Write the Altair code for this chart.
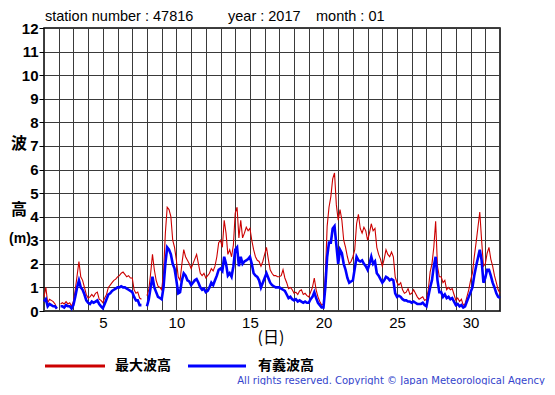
import altair as alt
import pandas as pd

# 3-hourly samples, day d + k/8 (k = 0..7), days 1..31, plus day 32.0
max_wave = [
    0.6, 1.0, 0.35, 0.5, 0.45, 0.4, 0.3, 0.1,          # 1
    None, 0.3, 0.35, 0.3, 0.4, 0.3, 0.35, 0.2,         # 2
    0.4, 0.9, 1.5, 2.1, 1.45, 1.3, 1.0, 0.7,           # 3
    0.55, 0.6, 0.7, 0.6, 0.75, 0.8, 0.5, 0.45,         # 4
    0.35, 0.55, 0.7, 1.0, 1.1, 1.2, 1.3, 1.35,         # 5
    1.45, 1.5, 1.6, 1.65, 1.55, 1.45, 1.5, 1.4,        # 6
    1.4, 0.9, 0.75, 0.8, 0.55, 0.5, None, None,        # 7
    0.65, 0.9, 1.6, 2.4, 1.75, 1.3, 1.05, 1.0,         # 8
    0.9, 1.6, 3.3, 4.4, 4.3, 4.0, 3.0, 2.7,            # 9
    2.15, 1.45, 1.3, 2.0, 2.6, 2.3, 2.15, 2.0,         # 10
    1.8, 2.0, 2.2, 2.4, 2.0, 1.6, 1.5, 1.6,            # 11
    1.4, 1.5, 1.6, 1.8, 1.7, 1.9, 2.3, 2.9,            # 12
    3.0, 2.7, 3.85, 3.3, 2.4, 2.6, 2.3, 2.8,           # 13
    4.15, 4.4, 3.1, 3.85, 3.1, 3.3, 3.55, 3.4,         # 14
    3.5, 3.0, 2.6, 2.3, 2.15, 2.1, 1.9, 2.1,           # 15
    2.4, 2.7, 2.2, 1.75, 1.6, 1.5, 1.5, 1.45,          # 16
    1.45, 1.5, 1.75, 1.4, 1.2, 0.95, 1.0, 0.9,         # 17
    0.75, 0.8, 0.7, 0.85, 0.9, 0.7, 0.75, 0.65,        # 18
    0.6, 0.8, 1.0, 1.4, 0.9, 0.6, 0.4, 0.25,           # 19
    0.3, 1.5, 3.6, 4.4, 4.85, 5.6, 5.85, 4.5,          # 20
    3.85, 4.3, 3.85, 3.0, 2.7, 2.3, 2.0, 2.1,          # 21
    2.3, 2.6, 3.7, 4.1, 3.5, 3.3, 3.55, 3.4,           # 22
    3.0, 3.3, 3.7, 3.4, 3.5, 2.7, 2.4, 2.2,            # 23
    1.9, 2.2, 2.6, 2.4, 2.3, 2.5, 2.3, 1.45,           # 24
    1.2, 1.1, 1.2, 0.9, 0.75, 0.8, 0.95, 0.7,          # 25
    0.75, 0.9, 0.75, 0.6, 0.5, 0.55, 0.6, 0.45,        # 26
    0.5, 0.9, 1.65, 2.0, 2.7, 3.8, 1.9, 1.45,          # 27
    1.45, 1.2, 1.3, 0.9, 1.0, 0.9, 0.95, 0.7,          # 28
    0.45, 0.55, 0.4, 0.5, 0.25, 0.3, 0.6, 0.9,         # 29
    1.3, 1.6, 2.3, 2.9, 3.55, 4.2, 3.0, 1.9,           # 30
    2.0, 2.45, 2.7, 2.2, 1.9, 1.5, 1.2, 0.9,           # 31
    0.75,
]
sig_wave = [
    0.4, 0.5, 0.2, 0.3, 0.25, 0.2, 0.2, 0.1,           # 1
    None, 0.2, 0.2, 0.15, 0.25, 0.2, 0.2, 0.1,         # 2
    0.25, 0.6, 1.0, 1.3, 1.0, 0.9, 0.7, 0.45,          # 3
    0.35, 0.3, 0.4, 0.35, 0.4, 0.45, 0.3, 0.2,         # 4
    0.12, 0.3, 0.5, 0.7, 0.75, 0.85, 0.9, 0.95,        # 5
    1.0, 1.0, 1.05, 1.0, 1.0, 0.95, 0.9, 0.85,         # 6
    0.8, 0.6, 0.45, 0.45, 0.25, 0.25, None, None,      # 7
    0.2, 0.5, 1.0, 1.45, 1.0, 0.8, 0.6, 0.55,          # 8
    0.5, 1.0, 2.0, 2.7, 2.6, 2.4, 2.0, 1.8,            # 9
    1.3, 0.75, 0.8, 1.3, 1.6, 1.5, 1.3, 1.25,          # 10
    1.1, 1.2, 1.3, 1.35, 1.2, 1.0, 0.9, 0.95,          # 11
    0.8, 0.85, 1.0, 1.2, 1.1, 1.3, 1.5, 1.75,          # 12
    1.8, 1.7, 2.3, 2.0, 1.5, 1.6, 1.45, 1.9,           # 13
    2.6, 2.7, 1.9, 2.3, 2.0, 2.1, 2.15, 2.2,           # 14
    2.3, 2.0, 1.6, 1.5, 1.45, 1.3, 1.0, 1.2,           # 15
    1.4, 1.6, 1.4, 1.2, 1.1, 1.05, 1.0, 1.0,           # 16
    1.0, 0.95, 0.9, 0.85, 0.7, 0.55, 0.6, 0.5,         # 17
    0.45, 0.5, 0.4, 0.45, 0.4, 0.35, 0.4, 0.35,        # 18
    0.35, 0.5, 0.6, 0.8, 0.55, 0.35, 0.25, 0.15,       # 19
    0.15, 1.0, 2.3, 2.9, 2.9, 3.5, 3.6, 2.8,           # 20
    2.0, 2.6, 2.45, 2.0, 1.75, 1.4, 1.2, 1.25,         # 21
    1.3, 1.8, 2.3, 2.15, 2.1, 2.15, 2.0, 1.9,          # 22
    1.75, 2.0, 2.3, 2.0, 2.1, 1.6, 1.5, 1.35,          # 23
    1.2, 1.3, 1.45, 1.4, 1.3, 1.35, 1.3, 0.75,         # 24
    0.6, 0.65, 0.6, 0.5, 0.45, 0.45, 0.4, 0.4,         # 25
    0.35, 0.4, 0.35, 0.3, 0.3, 0.3, 0.35, 0.25,        # 26
    0.2, 0.6, 1.0, 1.3, 1.9, 2.3, 1.3, 0.8,            # 27
    0.8, 0.6, 0.7, 0.55, 0.6, 0.5, 0.55, 0.4,          # 28
    0.25, 0.3, 0.2, 0.25, 0.15, 0.2, 0.4, 0.6,         # 29
    0.8, 1.0, 1.5, 1.9, 2.25, 2.6, 2.15, 1.2,          # 30
    1.4, 1.75, 1.75, 1.5, 1.2, 1.0, 0.75, 0.6,         # 31
    0.55,
]
days = [d + k / 8 for d in range(1, 32) for k in range(8)] + [32.0]

x_ticks = list(range(1, 33))
y_ticks = list(range(0, 13))
series_names = ["最大波高", "有義波高"]
series_colors = ["#cc0000", "#0000ff"]

df = pd.DataFrame({"day": days, "max": max_wave, "sig": sig_wave})

W, H = 456, 283

x_enc = alt.X(
    "day:Q",
    scale=alt.Scale(domain=[1, 32], nice=False, zero=False),
    axis=alt.Axis(
        values=x_ticks, labelExpr="datum.value % 5 == 0 ? datum.label : ''",
        ticks=False, domain=False, title=None, labelFontSize=15,
        labelFont="Liberation Sans", labelColor="black", labelPadding=4,
        grid=True, gridColor="#3a3a3a", gridWidth=1, gridOpacity=1,
    ),
)
y_axis = alt.Axis(
    values=y_ticks, title=None, domain=False, ticks=True, tickSize=5,
    tickColor="black", labelFontSize=15, labelFontWeight="bold",
    labelFont="Liberation Sans", labelColor="black", labelPadding=1,
    grid=True, gridColor="#3a3a3a", gridWidth=1, gridOpacity=1,
)
y_scale = alt.Scale(domain=[0, 12], nice=False)

base = alt.Chart(df)
red = base.mark_line(color=series_colors[0], strokeWidth=1.1,
                     invalid="break-paths-show-domains").encode(
    x=x_enc, y=alt.Y("max:Q", scale=y_scale, axis=y_axis))
blue = base.mark_line(color=series_colors[1], strokeWidth=2.6,
                      invalid="break-paths-show-domains").encode(
    x=x_enc, y=alt.Y("sig:Q", scale=y_scale, axis=y_axis))

one = pd.DataFrame({"a": [0]})
OX, OY = 44, 28  # page coords of the plot origin


def txt(s, px, py, size=14, weight="normal", font="Liberation Sans",
        align="left", color="black", baseline="middle", **kw):
    return alt.Chart(one).mark_text(
        text=s, fontSize=size, fontWeight=weight, font=font, align=align,
        baseline=baseline, color=color, **kw
    ).encode(x=alt.value(px - OX), y=alt.value(py - OY))


def seg(x1, x2, py, color):
    return alt.Chart(one).mark_rule(color=color, strokeWidth=3).encode(
        x=alt.value(x1 - OX), x2=alt.value(x2 - OX), y=alt.value(py - OY))


cjk = "Noto Sans CJK JP"
texts = [
    txt("station number : 47816", 45, 17, size=14.5),
    txt("year : 2017", 228, 17, size=14.5),
    txt("month : 01", 316, 17, size=14.5),
    txt("波", 19, 144, size=16, weight="bold", font=cjk, align="center"),
    txt("高", 19, 210, size=16, weight="bold", font=cjk, align="center"),
    txt("(m)", 20, 239, size=14, weight="bold", font="Liberation Sans",
        align="center"),
    txt("(日)", 271, 338, size=16, font=cjk, align="center"),
    seg(45, 105, 366, series_colors[0]),
    txt(series_names[0], 115, 366, size=14, weight="bold", font=cjk),
    seg(188, 246, 366, series_colors[1]),
    txt(series_names[1], 258, 366, size=14, weight="bold", font=cjk),
    txt("All rights reserved. Copyright © Japan Meteorological Agency", 545, 381,
        size=10, font="DejaVu Sans", align="right", color="#3344cc"),
]

chart = alt.layer(red, blue, *texts).properties(
    width=W, height=H,
    autosize=alt.AutoSizeParams(type="none"),
    padding={"left": 36, "top": 20, "right": 47, "bottom": 74},
    background="white",
).configure_view(stroke="black", strokeWidth=1.5)

chart.save("out.html", embed_options={"renderer": "svg", "actions": False})
